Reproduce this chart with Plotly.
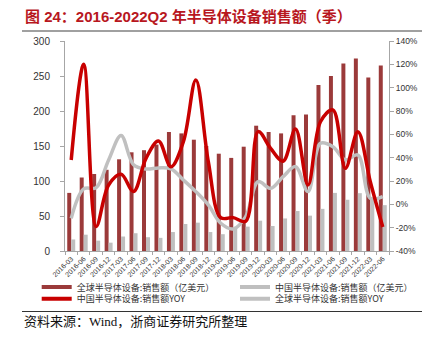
import plotly.graph_objects as go

# Quarterly semiconductor equipment sales, 2016Q1 - 2022Q2
quarters = [
    "2016-03", "2016-06", "2016-09", "2016-12",
    "2017-03", "2017-06", "2017-09", "2017-12",
    "2018-03", "2018-06", "2018-09", "2018-12",
    "2019-03", "2019-06", "2019-09", "2019-12",
    "2020-03", "2020-06", "2020-09", "2020-12",
    "2021-03", "2021-06", "2021-09", "2021-12",
    "2022-03", "2022-06",
]

# Sales, 100 million USD
global_sales = [83, 105, 110, 116, 131, 141, 144, 152, 170, 168, 159, 150,
                139, 133, 149, 179, 170, 168, 194, 195, 237, 250, 268, 275,
                248, 265]
china_sales = [16.5, 23.3, 14.8, 11.9, 20.7, 25.4, 19.7, 18.8, 27.1, 38.6, 40.5, 27.1,
               24.0, 33.6, 34.8, 43.3, 35.7, 46.5, 57.1, 50.5, 60.2, 83.0, 73.2, 82.6,
               75.0, 65.5]

# Year-over-year growth, %
china_yoy = [38, 120, -19, 16.6, 25.7, 11, 39.4, 54.3, 32.3, 53.7, 106.6, 36.6,
             -11.4, -11.4, -14.5, 62.3, 48, 37, 64.6, 16.6, 70.8, 80.9, 30.9, 62.3,
             19.4, -19.5]
global_yoy = [-12, 13.2, 14.3, 38, 59, 34, 30.3, 31.2, 30.4, 20.9, 10.9, -0.5,
              -16.2, -21.1, -10.5, 19.4, 13.7, 23.7, 32.3, 10.9, 52.3, 49.4, 38, 42.3,
              5.2, 6.6]

left_ticks = [0, 50, 100, 150, 200, 250, 300]
right_ticks = [-40, -20, 0, 20, 40, 60, 80, 100, 120, 140]
right_labels = [f"{v}%" for v in right_ticks]

names = {
    "gs": "全球半导体设备:销售额（亿美元）",
    "cs": "中国半导体设备:销售额（亿美元）",
    "cy": "中国半导体设备:销售额YOY",
    "gy": "全球半导体设备:销售额YOY",
}

DARK_RED = "#9B3A3A"
BAR_GRAY = "#BFBFBF"
LINE_RED = "#C80000"
LINE_GRAY = "#C0C0C0"
AXIS_GRAY = "#A6A6A6"

fig = go.Figure()

fig.add_trace(go.Bar(x=quarters, y=global_sales, name=names["gs"],
                     marker=dict(color=DARK_RED, line=dict(width=0)),
                     showlegend=False))
fig.add_trace(go.Bar(x=quarters, y=china_sales, name=names["cs"],
                     marker=dict(color=BAR_GRAY, line=dict(width=0)),
                     showlegend=False))
fig.add_trace(go.Scatter(x=quarters, y=global_yoy, name=names["gy"], yaxis="y2",
                         mode="lines",
                         line=dict(color=LINE_GRAY, width=3.5, shape="spline", smoothing=1),
                         showlegend=False))
fig.add_trace(go.Scatter(x=quarters, y=china_yoy, name=names["cy"], yaxis="y2",
                         mode="lines",
                         line=dict(color=LINE_RED, width=3.5, shape="spline", smoothing=1),
                         showlegend=False))

L, R, T, B = 65, 44, 41, 90
W, H = 433, 341
PW, PH = W - L - R, H - T - B


def px_x(px):
    return (px - L) / PW


def px_y(py):
    return (H - B - py) / PH


legend_font = dict(family="Noto Sans CJK SC", size=9, color="#333333")

# One legend box per entry so the two-column grid sits at exact positions
legend_slots = [
    ("legend", names["gs"], DARK_RED, 36.7, 287.0),
    ("legend2", names["cs"], BAR_GRAY, 235.0, 287.0),
    ("legend3", names["cy"], LINE_RED, 36.7, 298.8),
    ("legend4", names["gy"], LINE_GRAY, 235.0, 298.8),
]
legend_layout = {}
for key, label, color, lx, ly in legend_slots:
    fig.add_trace(go.Scatter(x=[None], y=[None], mode="lines", name=label,
                             line=dict(color=color, width=4),
                             legend=key, showlegend=True, hoverinfo="skip"))
    legend_layout[key] = dict(x=px_x(lx), xanchor="left", y=px_y(ly), yanchor="middle",
                              font=legend_font, bgcolor="rgba(0,0,0,0)",
                              borderwidth=0, itemclick=False, itemdoubleclick=False)

fig.update_layout(
    width=W, height=H,
    margin=dict(l=L, r=R, t=T, b=B, autoexpand=False),
    paper_bgcolor="white", plot_bgcolor="white",
    barmode="group", bargap=0.36, bargroupgap=0,
    font=dict(family="Liberation Sans, Arial", color="#333333"),
    xaxis=dict(
        type="category", showgrid=False, showline=True, linecolor=AXIS_GRAY, linewidth=1,
        ticks="outside", tickson="boundaries", ticklen=3, tickcolor=AXIS_GRAY,
        tickangle=-45, tickfont=dict(size=7, color="#333333"), automargin=False,
    ),
    yaxis=dict(
        range=[0, 300], tickvals=left_ticks, showgrid=False, zeroline=False,
        showline=True, linecolor=AXIS_GRAY, linewidth=1,
        ticks="outside", ticklen=4, tickcolor=AXIS_GRAY,
        tickfont=dict(size=10, color="#333333"), ticklabelstandoff=8, automargin=False,
    ),
    yaxis2=dict(
        range=[-40, 140], tickvals=right_ticks, ticktext=right_labels, overlaying="y",
        side="right", showgrid=False, zeroline=False,
        showline=True, linecolor=AXIS_GRAY, linewidth=1,
        ticks="outside", ticklen=4, tickcolor=AXIS_GRAY,
        tickfont=dict(size=8.5, color="#333333"), automargin=False,
    ),
    showlegend=True,
    **legend_layout,
)

fig.add_annotation(
    text="<b>图 24：2016-2022Q2 年半导体设备销售额（季）</b>",
    xref="paper", yref="paper", x=px_x(23), y=px_y(17),
    xanchor="left", yanchor="middle", showarrow=False,
    font=dict(family="Liberation Sans, Noto Sans CJK SC", size=15, color="#B8171E"),
)
fig.add_annotation(
    text="资料来源：Wind，浙商证券研究所整理",
    xref="paper", yref="paper", x=px_x(22), y=px_y(321),
    xanchor="left", yanchor="middle", showarrow=False,
    font=dict(family="Liberation Serif, Noto Sans CJK SC", size=13, color="#111111"),
)

fig.add_shape(type="line", xref="paper", yref="paper",
              x0=px_x(22), x1=px_x(422), y0=px_y(31), y1=px_y(31),
              line=dict(color="#808080", width=1.5))
fig.add_shape(type="line", xref="paper", yref="paper",
              x0=px_x(22), x1=px_x(422), y0=px_y(311.5), y1=px_y(311.5),
              line=dict(color="#333333", width=1))

fig.write_html("out.html")
